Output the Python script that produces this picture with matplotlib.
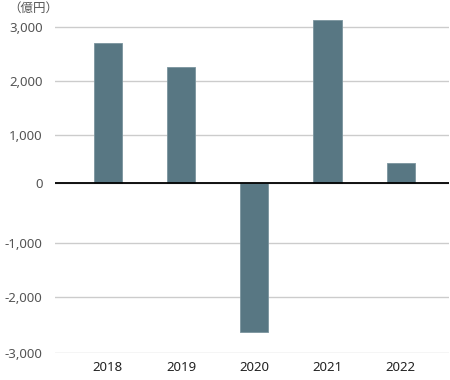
import numpy as np
import matplotlib
matplotlib.use("Agg")
import matplotlib.pyplot as plt

years = ["2018", "2019", "2020", "2021", "2022"]
values = [2700, 2250, -2630, 3130, 410]
yticks = [-3000, -2000, -1000, 0, 1000, 2000, 3000]
ytick_labels = ["-3,000", "-2,000", "-1,000", "0", "1,000", "2,000", "3,000"]
unit_label = "（億円）"

# piecewise-linear scale reproducing the reference's uneven spacing near zero
_anchor_v = np.array([-4000, -3000, -2000, -1000, 0, 1000, 2000, 3000, 4000], float)
_anchor_p = -np.array([407.4, 353.0, 297.0, 243.0, 183.3, 135.0, 81.0, 27.0, -27.4])

def fwd(v):
    return np.interp(v, _anchor_v, _anchor_p)

def inv(p):
    return np.interp(p, _anchor_p, _anchor_v)

W, H = 450, 380
fig = plt.figure(figsize=(W / 100, H / 100), dpi=100)
top_px, bot_px = 16, 353
ax = fig.add_axes([55 / W, (H - bot_px) / H, (449 - 55) / W, (bot_px - top_px) / H])
ax.set_yscale("function", functions=(fwd, inv))
ax.set_ylim(-3000, inv(-top_px))

x = np.arange(len(years))
ax.bar(x, values, width=0.385, color="#587783", edgecolor="#7a949e", linewidth=0.6, zorder=3)
ax.set_xlim(-0.72, 4.66)

ax.set_yticks(yticks)
ax.set_yticklabels(ytick_labels)
ax.set_xticks(x)
ax.set_xticklabels(years)
ax.yaxis.grid(True, color="#cccccc", linewidth=1.0, zorder=0)
ax.axhline(0, color="black", linewidth=1.3, zorder=4)
for s in ax.spines.values():
    s.set_visible(False)
ax.tick_params(axis="both", length=0)
ax.tick_params(axis="y", pad=9, labelcolor="#555555", labelsize=9.5)
ax.tick_params(axis="x", pad=6, labelcolor="#222222", labelsize=9.5)
for lab in ax.get_xticklabels() + ax.get_yticklabels():
    lab.set_fontfamily(["Noto Sans", "DejaVu Sans"])

fig.text(8 / W, 1 - 8 / H, unit_label, ha="left", va="center", fontsize=9,
         color="#555555", family=["Noto Sans CJK JP", "DejaVu Sans"])

fig.savefig("out.png", dpi=100)
